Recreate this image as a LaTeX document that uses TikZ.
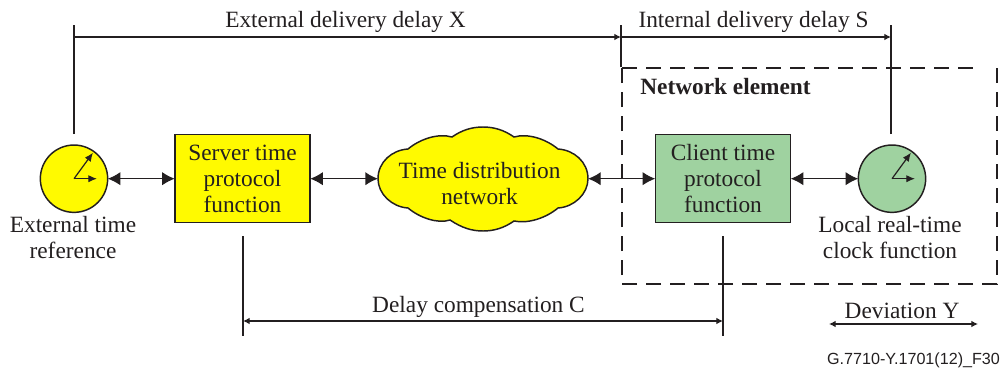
\documentclass[tikz,border=0pt]{standalone}
\usepackage{fontspec}
\setmainfont{Liberation Serif}
\newfontfamily\labelsans{Liberation Sans}
\usetikzlibrary{arrows.meta}
\definecolor{inkgrey}{HTML}{231F20}
\definecolor{clientgreen}{HTML}{9FD2A0}
\definecolor{serveryellow}{HTML}{FFFA00}
\tikzset{
	every node/.style={text=inkgrey, font=\fontsize{17.5}{19.5}\selectfont, align=center, inner sep=0pt, outer sep=0pt},
	funcbox/.style={draw=inkgrey, line width=1.1pt, minimum width=101.5pt, minimum height=66pt},
	clockface/.style={circle, draw=inkgrey, line width=1.1pt, minimum size=50.5pt},
	bigarrow/.style={draw=inkgrey, line width=1pt, {Latex[length=9.5pt,width=10pt]}-{Latex[length=9.5pt,width=10pt]}},
	dimline/.style={draw=inkgrey, line width=0.85pt},
	dimarrow/.style={dimline, -{Latex[length=5pt,width=5pt]}},
	bothways/.style={dimline, {Latex[length=5pt,width=5pt]}-{Latex[length=5pt,width=5pt]}},
	handarrow/.style={draw=inkgrey, line width=0.9pt, -{Latex[length=6.5pt,width=5.5pt]}},
	framedash/.style={draw=inkgrey, line width=0.8pt, dash pattern=on 11.25pt off 6.75pt},
}
\begin{document}
\begin{tikzpicture}[x=0.75pt, y=-0.75pt]
	\useasboundingbox (0, 0) rectangle (1001, 371);
	% network element frame
	\draw[framedash] (622, 68) -- (973, 68);
	\draw[framedash] (997, 68) -- (997, 284) -- (622, 284) -- (622, 68);
	% cloud
	\fill[serveryellow, draw=inkgrey, line width=1.1pt] (378, 178.7)
		.. controls (378, 162) and (392, 150) .. (408, 149)
		.. controls (420, 139) and (438, 133) .. (452, 137)
		.. controls (462, 130) and (472, 127) .. (483, 127)
		.. controls (494, 127) and (504, 130) .. (514, 137)
		.. controls (528, 133) and (546, 139) .. (558, 149)
		.. controls (574, 150) and (588, 162) .. (588, 178.7)
		.. controls (588, 194) and (574, 207) .. (558, 208)
		.. controls (546, 218) and (528, 224) .. (514, 221)
		.. controls (504, 228) and (494, 231) .. (483, 231)
		.. controls (472, 231) and (462, 228) .. (450, 220)
		.. controls (438, 224) and (420, 218) .. (408, 208)
		.. controls (392, 207) and (378, 194) .. (378, 178.7) -- cycle;
	\coordinate (cloudwest) at (378, 178.7);
	\coordinate (cloudeast) at (588, 178.7);
	\node at (479.5, 183.5) (cloud) {Time distribution\\network};
	% functions
	\node at (74, 178.7) (extclock) [clockface, fill=serveryellow] {};
	\node at (242.5, 178.7) (serverbox) [funcbox, fill=serveryellow] {Server time\\protocol\\function};
	\node at (723, 178.7) (clientbox) [funcbox, fill=clientgreen] {Client time\\protocol\\function};
	\node at (892, 178.7) (localclock) [clockface, fill=clientgreen] {};
	\node at (73, 238) (extlabel) {External time\\reference};
	\node at (890, 238) (locallabel) {Local real-time\\clock function};
	\node at (725.5, 87) (elementlabel) {\bfseries Network element};
	% clock hands
	\draw[handarrow] (extclock.center) -- ++(19, -26);
	\draw[handarrow] (extclock.center) -- ++(23, 0);
	\draw[handarrow] (localclock.center) -- ++(19, -26);
	\draw[handarrow] (localclock.center) -- ++(23, 0);
	% signal flow
	\draw[bigarrow] (extclock.east) -- (serverbox.west);
	\draw[bigarrow] (serverbox.east) -- (cloudwest);
	\draw[bigarrow] (cloudeast) -- (clientbox.west);
	\draw[bigarrow] (clientbox.east) -- (localclock.west);
	% delays
	\coordinate (xstart) at (74, 37);
	\coordinate (xend) at (621, 37);
	\coordinate (send) at (891, 37);
	\coordinate (cstart) at (243, 321);
	\coordinate (cend) at (723, 321);
	\coordinate (ystart) at (829, 324);
	\coordinate (yend) at (978, 324);
	\draw[dimline] (74, 134) -- (74, 25);
	\draw[dimline] (621, 67) -- (621, 25);
	\draw[dimline] (891, 134) -- (891, 25);
	\draw[dimline] (243, 236) -- (243, 336);
	\draw[dimline] (723, 236) -- (723, 336);
	\draw[dimarrow] (xstart) -- (xend);
	\draw[dimarrow] (xend) -- (send);
	\draw[bothways] (cstart) -- (cend);
	\draw[bothways] (ystart) -- (yend);
	\node at (345.5, 22) (xlabel) {External delivery delay X};
	\node at (753.5, 22) (slabel) {Internal delivery delay S};
	\node at (478.5, 307) (clabel) {Delay compensation C};
	\node at (902, 311) (ylabel) {Deviation Y};
	\node at (913.5, 360) (figlabel) {\labelsans\fontsize{12.1}{14}\selectfont G.7710-Y.1701(12)\_F30};
\end{tikzpicture}
\end{document}
